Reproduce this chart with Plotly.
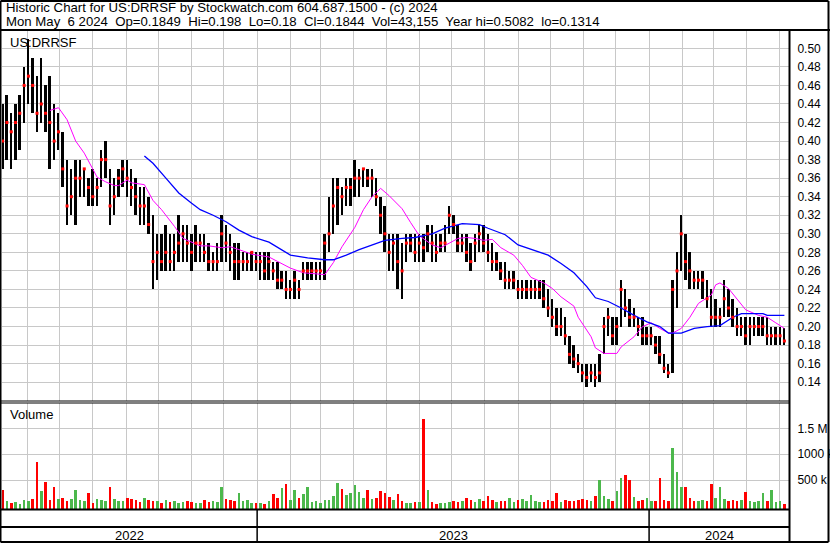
import pandas as pd
import plotly.graph_objects as go

# ---------------- data ----------------
START = "2022-05-09"
N_SAMPLES = 183
STEP = "4D"

highs = [0.44,0.45,0.43,0.44,0.45,0.48,0.51,0.49,0.47,0.49,0.46,0.47,0.44,0.43,0.41,0.38,0.37,0.38,0.38,0.37,
         0.36,0.37,0.36,0.39,0.40,0.37,0.36,0.37,0.38,0.38,0.37,0.36,0.35,0.35,0.34,0.32,0.30,0.30,0.31,0.30,
         0.30,0.32,0.31,0.31,0.30,0.31,0.30,0.30,0.29,0.28,0.29,0.32,0.31,0.30,0.29,0.29,0.28,0.28,0.28,0.28,
         0.28,0.28,0.28,0.27,0.27,0.26,0.26,0.25,0.26,0.25,0.27,0.27,0.27,0.27,0.27,0.30,0.34,0.36,0.36,0.35,
         0.36,0.36,0.38,0.37,0.37,0.37,0.37,0.36,0.34,0.33,0.30,0.30,0.30,0.29,0.30,0.30,0.30,0.30,0.30,0.31,
         0.31,0.30,0.30,0.31,0.33,0.32,0.31,0.30,0.30,0.29,0.30,0.31,0.31,0.30,0.29,0.28,0.27,0.27,0.26,0.26,
         0.25,0.25,0.25,0.25,0.25,0.25,0.25,0.24,0.23,0.22,0.22,0.21,0.19,0.18,0.17,0.16,0.16,0.16,0.16,0.17,
         0.21,0.22,0.21,0.21,0.25,0.24,0.23,0.22,0.21,0.21,0.20,0.20,0.19,0.19,0.17,0.16,0.25,0.28,0.32,0.30,
         0.28,0.26,0.26,0.26,0.25,0.24,0.23,0.22,0.25,0.24,0.23,0.22,0.21,0.21,0.21,0.21,0.21,0.21,0.21,0.20,
         0.20,0.20,0.198]
lows = [0.37,0.38,0.37,0.38,0.39,0.42,0.44,0.43,0.41,0.42,0.41,0.37,0.38,0.39,0.35,0.31,0.32,0.31,0.34,0.34,
        0.33,0.33,0.33,0.35,0.36,0.31,0.32,0.34,0.35,0.34,0.33,0.32,0.31,0.31,0.30,0.24,0.25,0.26,0.26,0.26,
        0.26,0.27,0.27,0.27,0.26,0.27,0.27,0.27,0.26,0.26,0.26,0.27,0.27,0.26,0.25,0.25,0.26,0.26,0.26,0.26,
        0.25,0.25,0.25,0.25,0.24,0.24,0.23,0.23,0.23,0.23,0.25,0.25,0.25,0.25,0.25,0.25,0.28,0.30,0.31,0.32,
        0.33,0.33,0.34,0.34,0.35,0.35,0.34,0.33,0.30,0.28,0.26,0.26,0.24,0.23,0.27,0.28,0.27,0.27,0.27,0.28,
        0.27,0.27,0.28,0.28,0.30,0.30,0.28,0.28,0.27,0.26,0.27,0.28,0.28,0.27,0.26,0.26,0.25,0.24,0.24,0.24,
        0.23,0.23,0.23,0.23,0.23,0.23,0.22,0.21,0.20,0.19,0.19,0.18,0.16,0.155,0.15,0.14,0.135,0.14,0.135,0.14,
        0.17,0.19,0.18,0.18,0.20,0.21,0.20,0.20,0.19,0.18,0.18,0.18,0.17,0.16,0.15,0.145,0.15,0.22,0.26,0.25,
        0.24,0.24,0.24,0.23,0.22,0.20,0.20,0.20,0.21,0.21,0.20,0.19,0.19,0.18,0.18,0.19,0.19,0.19,0.18,0.18,
        0.18,0.18,0.18]
closes = [0.40,0.42,0.41,0.42,0.43,0.46,0.47,0.46,0.43,0.44,0.43,0.42,0.40,0.41,0.37,0.33,0.34,0.36,0.36,0.37,
          0.35,0.34,0.35,0.38,0.38,0.33,0.34,0.36,0.37,0.36,0.35,0.34,0.33,0.33,0.31,0.27,0.28,0.27,0.28,0.27,
          0.28,0.29,0.30,0.29,0.28,0.29,0.29,0.28,0.27,0.27,0.27,0.30,0.29,0.28,0.27,0.27,0.27,0.27,0.28,0.27,
          0.27,0.26,0.27,0.26,0.25,0.25,0.24,0.24,0.25,0.24,0.26,0.26,0.26,0.26,0.26,0.29,0.30,0.33,0.35,0.34,
          0.35,0.35,0.36,0.36,0.37,0.36,0.36,0.34,0.32,0.30,0.28,0.29,0.27,0.26,0.29,0.29,0.28,0.29,0.285,0.30,
          0.29,0.28,0.29,0.29,0.32,0.31,0.29,0.29,0.28,0.27,0.29,0.30,0.29,0.28,0.27,0.27,0.26,0.25,0.25,0.25,
          0.24,0.24,0.24,0.24,0.24,0.24,0.23,0.22,0.21,0.20,0.20,0.19,0.17,0.165,0.16,0.15,0.145,0.15,0.145,0.15,
          0.20,0.21,0.19,0.20,0.24,0.22,0.21,0.21,0.20,0.19,0.19,0.19,0.18,0.17,0.155,0.15,0.24,0.26,0.30,0.27,
          0.26,0.25,0.25,0.25,0.23,0.21,0.21,0.21,0.23,0.22,0.21,0.20,0.20,0.19,0.20,0.20,0.20,0.20,0.19,0.19,
          0.19,0.19,0.1844]
volumes_k = [300,90,60,80,40,110,90,130,850,290,465,110,370,130,150,90,130,310,120,90,
             250,60,130,110,100,370,130,90,100,150,130,110,80,160,120,90,100,60,110,70,
             90,60,80,100,70,60,60,120,80,100,70,370,130,110,90,250,100,110,60,50,
             60,40,90,230,160,350,425,120,310,150,230,370,80,100,60,110,120,200,445,330,
             210,240,400,270,150,310,130,160,290,250,170,110,230,90,60,50,80,70,1690,310,
             80,40,50,60,80,100,70,90,150,120,80,130,90,190,110,80,100,90,150,80,
             110,130,90,210,100,80,70,110,90,250,80,120,100,90,110,130,120,90,200,500,
             200,140,100,290,540,600,500,170,100,120,150,100,90,540,120,100,1120,660,370,370,
             150,100,90,120,100,425,150,370,130,100,110,90,120,270,100,80,90,250,100,310,
             80,90,43]

# moving averages read at sample indices
ma_short_idx = [11,13,15,17,19,22,24,26,27,29,30,33,35,37,40,42,46,48,51,53,55,58,62,64,67,70,74,75,77,79,
                82,84,86,88,90,93,95,97,100,102,104,106,108,110,112,114,116,119,121,123,126,128,130,133,134,
                137,138,140,143,144,147,149,151,153,155,156,158,160,162,165,166,167,169,171,173,176,178,180,182]
ma_short_val = [0.433,0.436,0.423,0.400,0.387,0.361,0.356,0.352,0.352,0.358,0.355,0.353,0.336,0.326,0.308,0.295,
                0.287,0.287,0.285,0.286,0.283,0.278,0.275,0.270,0.263,0.258,0.257,0.256,0.269,0.286,
                0.307,0.326,0.340,0.349,0.341,0.327,0.312,0.298,0.288,0.285,0.290,0.295,0.296,0.295,0.293,
                0.294,0.285,0.277,0.266,0.253,0.247,0.241,0.232,0.222,0.210,0.189,0.177,0.171,0.171,0.178,
                0.189,0.200,0.204,0.198,0.193,0.193,0.198,0.210,0.225,0.234,0.245,0.247,0.241,0.229,0.218,
                0.212,0.210,0.204,0.198]
ma_long_idx = [33,35,38,41,44,46,49,52,55,58,62,65,67,71,75,77,80,83,86,89,93,96,100,103,107,111,113,117,120,
               123,127,130,133,136,138,141,144,147,150,153,155,158,161,164,167,170,172,177,178,182]
ma_long_val = [0.384,0.376,0.360,0.344,0.333,0.326,0.320,0.313,0.304,0.297,0.291,0.283,0.277,0.274,0.272,0.272,
               0.277,0.283,0.288,0.293,0.295,0.296,0.300,0.306,0.311,0.310,0.306,0.299,0.288,0.283,0.277,0.268,
               0.258,0.243,0.231,0.227,0.220,0.212,0.205,0.200,0.193,0.193,0.198,0.200,0.201,0.210,0.214,0.214,
               0.212,0.212]

price_ticks = [0.14,0.16,0.18,0.20,0.22,0.24,0.26,0.28,0.30,0.32,0.34,0.36,0.38,0.40,0.42,0.44,0.46,0.48,0.50]
vol_tickvals = [500000, 1000000, 1500000]
vol_ticktext = ["500 k", "1000 k", "1.5 M"]
years = ["2022", "2023", "2024"]

header1 = "Historic Chart for US:DRRSF by Stockwatch.com 604.687.1500 - (c) 2024"
header2 = "Mon May  6 2024  Op=0.1849  Hi=0.198  Lo=0.18  Cl=0.1844  Vol=43,155  Year hi=0.5082  lo=0.1314"

# ---------------- build ----------------
dates = pd.date_range(START, periods=N_SAMPLES, freq=STEP)
volumes = [v * 1000 for v in volumes_k]
spans = [h - l for h, l in zip(highs, lows)]
vol_colors = ["#e00000"]
for k in range(1, len(closes)):
    vol_colors.append("#4cb84c" if closes[k] >= closes[k - 1] else "#ff0000")

X_START = pd.Timestamp("2022-05-08 09:30")
X_END = pd.Timestamp("2024-05-10 07:00")
DAY_MS = 86400000

PRICE_RANGE = [0.1197, 0.5187]
VOL_MIN = -81000
VOL_RANGE = [VOL_MIN, 1992000]
GRID = "#c8c8c8"
FONT = "Liberation Sans, Arial, sans-serif"

fig = go.Figure()
fig.add_trace(go.Bar(x=dates, y=spans, base=lows, width=1.8 * DAY_MS, marker=dict(color="black", line=dict(width=0)),
                     xaxis="x", yaxis="y", hoverinfo="skip"))
fig.add_trace(go.Scatter(x=[dates[i] for i in ma_short_idx], y=ma_short_val, mode="lines",
                         line=dict(color="#ff00ff", width=1), xaxis="x", yaxis="y"))
fig.add_trace(go.Scatter(x=[dates[i] for i in ma_long_idx], y=ma_long_val, mode="lines",
                         line=dict(color="#0000ff", width=1.3), xaxis="x", yaxis="y"))
fig.add_trace(go.Scatter(x=dates, y=closes, mode="markers",
                         marker=dict(symbol="square", size=3, color="#ff0000", line=dict(width=0)),
                         xaxis="x", yaxis="y"))
fig.add_trace(go.Bar(x=dates, y=[v - VOL_MIN for v in volumes], base=VOL_MIN, width=2.4 * DAY_MS,
                     marker=dict(color=vol_colors, line=dict(width=0)), xaxis="x", yaxis="y2"))

# frame geometry (pixels -> paper)
W, H = 830, 543
ML, MR, MT, MB = 2, 41, 31, 33
PW, PH = W - ML - MR, H - MT - MB
def px(x):
    return (x - ML) / PW
def py(y):
    return (H - MB - y) / PH

price_bottom = py(401)
vol_top = py(403)

shapes = []
def line(x0, y0, x1, y1, w=2, xref="paper"):
    shapes.append(dict(type="line", xref=xref, yref="paper", x0=x0, y0=y0, x1=x1, y1=y1,
                       line=dict(color="black", width=w), layer="above"))

line(px(0.5), py(1), px(828.5), py(1))
line(px(0.5), py(542), px(828.5), py(542))
line(px(0.5), py(1), px(0.5), py(542))
line(px(828.5), py(1), px(828.5), py(542))
line(px(0), py(30), px(830), py(30))
line(px(789.5), py(30), px(789.5), py(543))
line(px(0), py(401), px(789), py(401), 1)
line(px(0), py(403), px(789), py(403), 1)
line(px(0), py(509.5), px(789), py(509.5))
line(px(0), py(527), px(789), py(527))
for yr in years[1:]:
    line(pd.Timestamp(f"{yr}-01-01"), py(510), pd.Timestamp(f"{yr}-01-01"), py(542), 1.5, xref="x")

HFONT = 13.2
annotations = [
    dict(text=header1, xref="paper", yref="paper", x=px(4), y=py(8), xanchor="left", yanchor="middle",
         showarrow=False, font=dict(size=HFONT, color="black", family=FONT)),
    dict(text=header2.replace("  ", "\u00a0 "), xref="paper", yref="paper", x=px(4), y=py(22), xanchor="left",
         yanchor="middle", showarrow=False, font=dict(size=HFONT, color="black", family=FONT)),
    dict(text="US:DRRSF", xref="paper", yref="paper", x=px(8), y=py(42), xanchor="left", yanchor="middle",
         showarrow=False, font=dict(size=13, color="black", family=FONT)),
    dict(text="Volume", xref="paper", yref="paper", x=px(8), y=py(414), xanchor="left", yanchor="middle",
         showarrow=False, font=dict(size=13, color="black", family=FONT)),
]
bounds = [X_START, pd.Timestamp("2023-01-01"), pd.Timestamp("2024-01-01"), X_END]
for k, yr in enumerate(years):
    mid = bounds[k] + (bounds[k + 1] - bounds[k]) / 2
    annotations.append(dict(text=yr, xref="x", yref="paper", x=mid, y=py(535), xanchor="center", yanchor="middle",
                            showarrow=False, font=dict(size=13, color="black", family=FONT)))

fig.update_layout(
    width=W, height=H, margin=dict(l=ML, r=MR, t=MT, b=MB, pad=0, autoexpand=False),
    paper_bgcolor="white", plot_bgcolor="white", showlegend=False, bargap=0,
    font=dict(family=FONT, size=12, color="black"),
    xaxis=dict(type="date", range=[X_START, X_END], domain=[0, 1], anchor="y2", automargin=False,
               showgrid=True, gridcolor=GRID, gridwidth=1, dtick="M1", tick0="2022-01-01",
               showticklabels=False, ticks="", showline=False, zeroline=False, fixedrange=True),
    yaxis=dict(domain=[price_bottom, 1], range=PRICE_RANGE, side="right", anchor="x", automargin=False,
               tickvals=price_ticks, ticktext=[f"{v:.2f}" for v in price_ticks],
               showgrid=True, gridcolor=GRID, gridwidth=1, zeroline=False, showline=False,
               ticks="outside", ticklen=5, tickcolor="rgba(0,0,0,0)", tickfont=dict(size=12, color="black")),
    yaxis2=dict(domain=[0, vol_top], range=VOL_RANGE, side="right", anchor="x", automargin=False,
                tickvals=vol_tickvals, ticktext=vol_ticktext,
                showgrid=True, gridcolor=GRID, gridwidth=1, zeroline=False, showline=False,
                ticks="outside", ticklen=5, tickcolor="rgba(0,0,0,0)", tickfont=dict(size=12, color="black")),
    shapes=shapes, annotations=annotations,
)

fig.write_html("out.html", config={"displayModeBar": False},
               post_script="document.body.style.margin='0';document.body.style.padding='0';")
